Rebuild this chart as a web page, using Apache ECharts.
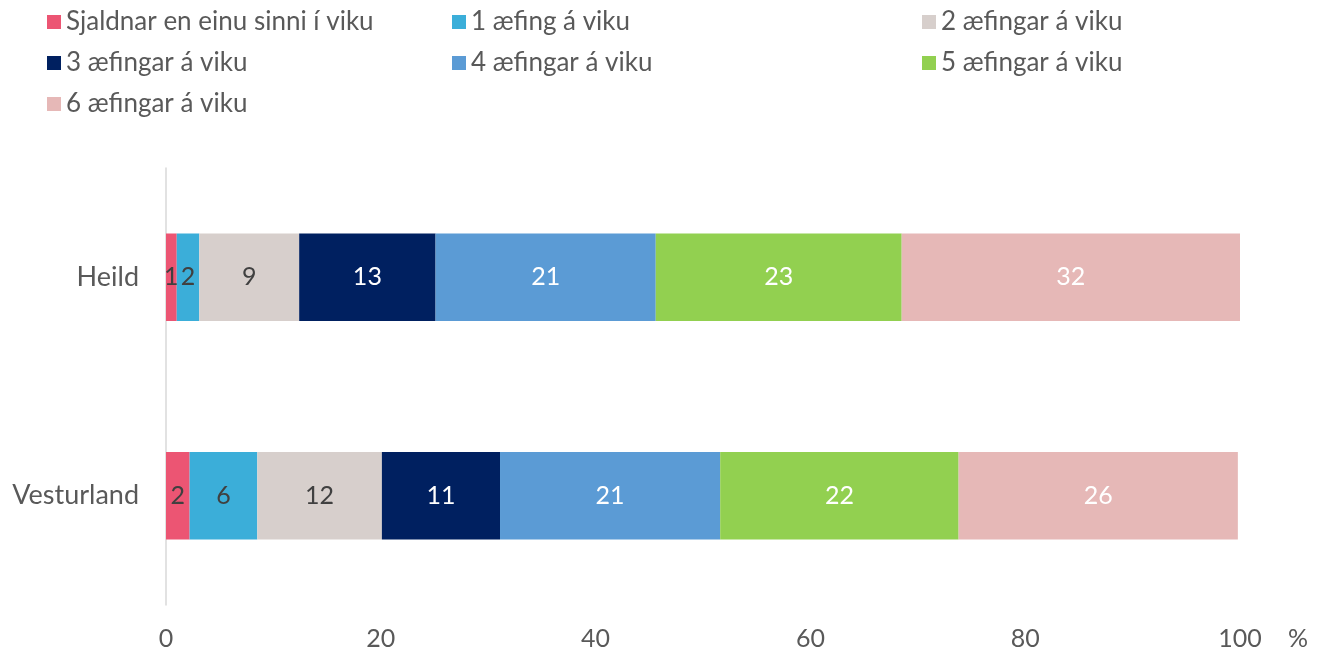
<!DOCTYPE html>
<html lang="is">
<head>
    <meta charset="UTF-8">
    <title>Æfingar á viku</title>
    <script src="https://cdn.jsdelivr.net/npm/echarts@6/dist/echarts.min.js"></script>
    <style>
        body { margin: 0; background: #fff; }
    </style>
</head>
<body>
    <div id="main" style="width: 1325px;height:659px;"></div>

    <script type="text/javascript">
        // categories and series
        const categories = ['Heild', 'Vesturland'];
        const seriesNames = [
            'Sjaldnar en einu sinni í viku',
            '1 æfing á viku',
            '2 æfingar á viku',
            '3 æfingar á viku',
            '4 æfingar á viku',
            '5 æfingar á viku',
            '6 æfingar á viku'
        ];
        // values (%) per category, in series order
        const heild = [1.0, 2.1, 9.3, 12.7, 20.5, 22.9, 31.5];
        const vesturland = [2.2, 6.3, 11.6, 11.0, 20.5, 22.2, 26.0];
        const xTicks = [0, 20, 40, 60, 80, 100];

        const colors = ['#EC5573', '#3BAED9', '#D7CFCC', '#002060', '#5B9BD5', '#92D050', '#E6B8B7'];
        const labelColors = ['#404040', '#404040', '#404040', '#fff', '#fff', '#fff', '#fff'];
        const font = 'Lato, "Open Sans", sans-serif';

        var myChart = echarts.init(document.getElementById('main'));

        const series = seriesNames.map(function (name, i) {
            return {
                name: name,
                type: 'bar',
                stack: 'total',
                barWidth: '40%',
                itemStyle: { color: colors[i] },
                label: {
                    show: true,
                    position: 'inside',
                    color: labelColors[i],
                    fontFamily: font,
                    fontSize: 25,
                    formatter: function (p) { return Math.round(p.value); }
                },
                emphasis: { disabled: true },
                data: [heild[i], vesturland[i]]
            };
        });

        function legendAt(left, idx) {
            return {
                orient: 'vertical',
                left: left,
                top: 2,
                icon: 'rect',
                itemWidth: 14,
                itemHeight: 14,
                itemGap: 11,
                itemTextGap: 8,
                selectedMode: false,
                textStyle: {
                    color: '#595959',
                    fontFamily: font,
                    fontSize: 26,
                    lineHeight: 30
                },
                data: idx.map(function (k) { return seriesNames[k]; })
            };
        }

        option = {
            animation: false,
            legend: [
                legendAt(42, [0, 3, 6]),
                legendAt(447, [1, 4]),
                legendAt(917, [2, 5])
            ],
            grid: {
                left: 166,
                right: 85,
                top: 168,
                bottom: 54
            },
            xAxis: {
                type: 'value',
                min: xTicks[0],
                max: xTicks[xTicks.length - 1],
                interval: 20,
                name: '%',
                nameLocation: 'end',
                nameGap: 48,
                nameTextStyle: {
                    color: '#595959',
                    fontFamily: font,
                    fontSize: 25,
                    verticalAlign: 'top',
                    padding: [21, 0, 0, 0]
                },
                axisLine: { show: false },
                axisTick: { show: false },
                splitLine: { show: false },
                axisLabel: {
                    color: '#595959',
                    fontFamily: font,
                    fontSize: 25,
                    margin: 21
                }
            },
            yAxis: {
                type: 'category',
                data: categories,
                inverse: true,
                axisLine: { show: true, lineStyle: { color: '#D9D9D9', width: 1.5 } },
                axisTick: { show: false },
                axisLabel: {
                    color: '#595959',
                    fontFamily: font,
                    fontSize: 27,
                    margin: 27
                }
            },
            series: series
        };

        myChart.setOption(option);
    </script>
</body>
</html>
